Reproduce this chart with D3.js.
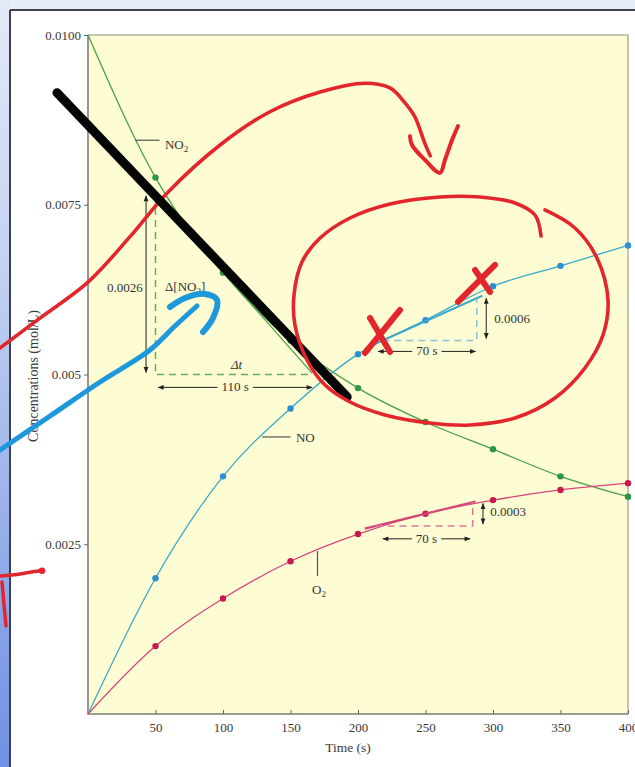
<!DOCTYPE html>
<html><head><meta charset="utf-8">
<script src="https://cdn.jsdelivr.net/npm/d3@7"></script>
<style>html,body{margin:0;padding:0;overflow:hidden;background:#fff}</style>
</head><body><svg id="c" width="635" height="767"></svg>
<script>
// ---- data ----
const times = [0, 50, 100, 150, 200, 250, 300, 350, 400];
const no2 = [0.0100, 0.0079, 0.0065, 0.0055, 0.0048, 0.0043, 0.0039, 0.0035, 0.0032];
const no  = [0, 0.0020, 0.0035, 0.0045, 0.0053, 0.0058, 0.0063, 0.0066, 0.0069];
const o2  = [0, 0.0010, 0.0017, 0.00225, 0.00265, 0.00295, 0.00315, 0.0033, 0.0034];
const xTicks = [50, 100, 150, 200, 250, 300, 350, 400];
const yTicks = [0.0025, 0.005, 0.0075, 0.0100];
const yTickLabels = ["0.0025", "0.005", "0.0075", "0.0100"];

// textbook annotations (time s, concentration mol/L)
const no2Tangent = [[50, 0.00763], [166, 0.00502]];
const noTangent = [[205, 0.00538], [292, 0.00616]];
const o2Tangent = [[205, 0.00273], [287, 0.00313]];

// hand-drawn ink (time s, concentration mol/L)
const inkBlack = [[-23, 0.00915], [192, 0.00467]];
const inkRedArc = [[-65.2,0.00539],[-35.6,0.00583],[0,0.00636],[31.1,0.00703],[58.5,0.00767],[97.8,0.00838],[134.8,0.00887],[171.9,0.00916],[205.2,0.00929],[223.7,0.00922],[234.8,0.00900],[242,0.00880],[249.6,0.00840],[253.5,0.00822]];
const inkRedHook = [[238.5,0.00851],[240,0.00838],[249.6,0.00816],[260.7,0.00797],[264.4,0.00816],[269.6,0.00845],[274.1,0.00866]];
const inkRedLoop = [[338.5,0.007423],[360.7,0.007158],[377.0,0.006716],[385.2,0.006097],[381.5,0.005582],[368.1,0.005096],[345.9,0.004654],[316.3,0.004359],[283.0,0.004256],[253.3,0.004286],[220.0,0.004404],[194.1,0.004595],[175.6,0.004845],[162.2,0.005214],[153.3,0.005729],[152.6,0.006171],[158.5,0.006657],[171.9,0.007010],[194.1,0.007305],[223.7,0.007511],[260.7,0.007614],[290.4,0.007614],[316.3,0.007526],[331.1,0.007349],[335.6,0.007040]];
const inkRedX = [
  [[231.1,0.005950],[205.2,0.005317]], [[208.9,0.005832],[223.7,0.005331]],
  [[301.5,0.006613],[274.1,0.006068]], [[286.7,0.006539],[297.8,0.006215]]
];
const inkBlue = [[-65.2,0.003888],[-28.1,0.004389],[8.9,0.004890],[45.9,0.005361],[64.4,0.005714],[80.7,0.006009]];
const inkBlueCurl = [[60.7,0.005994],[71.9,0.006127],[86.7,0.006186],[95.6,0.006097],[92.6,0.005832],[85.2,0.005626]];
const inkRedLeftH = [[-65.2,0.002032],[-50.4,0.002062],[-37.0,0.002106],[-34.1,0.002110]];
const inkRedLeftV = [[-63.7,0.001944],[-62.2,0.001605],[-60.7,0.001296]];

// ---- drawing ----
const svg = d3.select("#c");
const W = 635, H = 767;
const x = d3.scaleLinear().domain([0, 400]).range([88, 628]);
const y = d3.scaleLinear().domain([0, 0.01]).range([714, 35]);
const FONT = "'Liberation Serif','Times New Roman',serif";

const defs = svg.append("defs");
const g1 = defs.append("linearGradient").attr("id","side").attr("x1",0).attr("y1",0).attr("x2",0).attr("y2",1);
g1.append("stop").attr("offset","0%").attr("stop-color","#e3eaf7");
g1.append("stop").attr("offset","35%").attr("stop-color","#c3d1f0");
g1.append("stop").attr("offset","100%").attr("stop-color","#6f90e4");
defs.append("marker").attr("id","ah").attr("viewBox","0 0 10 10").attr("refX",9).attr("refY",5)
  .attr("markerWidth",7).attr("markerHeight",6).attr("markerUnits","userSpaceOnUse")
  .attr("orient","auto-start-reverse")
  .append("path").attr("d","M0,1 L10,5 L0,9 Z").attr("fill","#222");

// page background
svg.append("rect").attr("width",W).attr("height",H).attr("fill","#e6ecf8");
svg.append("rect").attr("x",0).attr("y",0).attr("width",10).attr("height",H).attr("fill","url(#side)");
svg.append("rect").attr("x",10).attr("y",10).attr("width",W).attr("height",H).attr("fill","#ffffff");
svg.append("line").attr("x1",10).attr("x2",10).attr("y1",10).attr("y2",H).attr("stroke","#3c3f52").attr("stroke-width",2);
svg.append("line").attr("x1",10).attr("x2",W).attr("y1",10).attr("y2",10).attr("stroke","#3c3f52").attr("stroke-width",2);

// plot area
svg.append("rect").attr("x",x(0)).attr("y",y(0.01)).attr("width",x(400)-x(0)).attr("height",y(0)-y(0.01))
  .attr("fill","#fefcd3");
svg.append("path").attr("d",`M${x(0)},${y(0.01)}H${x(400)}V${y(0)}`).attr("fill","none")
  .attr("stroke","#b4b4a8").attr("stroke-width",1.6);
svg.append("path").attr("d",`M${x(0)},${y(0.01)}V${y(0)}H${x(400)}`).attr("fill","none")
  .attr("stroke","#7d7d78").attr("stroke-width",1.6);

// axes
const yAx = svg.append("g").attr("transform",`translate(${x(0)},0)`)
  .call(d3.axisLeft(y).tickValues(yTicks).tickSize(4).tickPadding(3).tickFormat((d,i)=>yTickLabels[i]));
yAx.select(".domain").remove();
yAx.selectAll("line").attr("stroke","#666");
yAx.selectAll("text").attr("font-family",FONT).attr("font-size",13).attr("fill","#3a3a3a");
const xAx = svg.append("g").attr("transform",`translate(0,${y(0)})`)
  .call(d3.axisBottom(x).tickValues(xTicks).tickSize(-4).tickPadding(9));
xAx.select(".domain").remove();
xAx.selectAll("line").attr("stroke","#666");
xAx.selectAll("text").attr("font-family",FONT).attr("font-size",13).attr("fill","#3a3a3a");

svg.append("text").attr("x",(x(0)+x(400))/2 - 10).attr("y",752).attr("text-anchor","middle")
  .attr("font-family",FONT).attr("font-size",13.5).attr("fill","#3a3a3a").text("Time (s)");
svg.append("text").attr("transform","translate(38,376) rotate(-90)").attr("text-anchor","middle")
  .attr("font-family",FONT).attr("font-size",14).attr("fill","#3a3a3a").text("Concentrations (mol/L)");

// data curves
const series = [
  {vals: no2, line: "#48a048", dot: "#2f9446"},
  {vals: no,  line: "#3aa9cc", dot: "#2b8fd4"},
  {vals: o2,  line: "#d6467a", dot: "#c81a50"}
];
const curve = d3.line().x(d=>x(d[0])).y(d=>y(d[1])).curve(d3.curveMonotoneX);
series.forEach(s => {
  const pts = times.map((t,i)=>[t, s.vals[i]]);
  svg.append("path").attr("d", curve(pts)).attr("fill","none").attr("stroke", s.line).attr("stroke-width",1.3);
  svg.append("g").selectAll("circle").data(pts.slice(1)).join("circle")
    .attr("cx",d=>x(d[0])).attr("cy",d=>y(d[1])).attr("r",3.2).attr("fill",s.dot);
});

// textbook annotations
const seg = d3.line().x(d=>x(d[0])).y(d=>y(d[1]));
svg.append("path").attr("d",seg(no2Tangent)).attr("stroke","#48a048").attr("stroke-width",1.3).attr("fill","none");
svg.append("path").attr("d",seg(noTangent)).attr("stroke","#3aa9cc").attr("stroke-width",2).attr("fill","none");
svg.append("path").attr("d",seg(o2Tangent)).attr("stroke","#d6467a").attr("stroke-width",2.2).attr("fill","none");

function dashed(pts, color){
  svg.append("path").attr("d",seg(pts)).attr("fill","none").attr("stroke",color)
    .attr("stroke-width",1.5).attr("stroke-dasharray","7,5");
}
dashed([[50,0.00763],[50,0.00500],[166,0.00500]], "#5fae5f");
dashed([[218,0.00550],[288,0.00550],[288,0.00612]], "#86c4dc");
dashed([[213,0.00277],[285,0.00277],[285,0.00312]], "#dd7a9a");

function vArrow(t, c1, c2){
  svg.append("line").attr("x1",x(t)).attr("x2",x(t)).attr("y1",y(c1)).attr("y2",y(c2))
    .attr("stroke","#222").attr("stroke-width",1)
    .attr("marker-start","url(#ah)").attr("marker-end","url(#ah)");
}
function txt(t, c, s, anchor, size){
  return svg.append("text").attr("x",x(t)).attr("y",y(c)).attr("text-anchor",anchor||"start")
    .attr("font-family",FONT).attr("font-size",size||13).attr("fill","#333").text(s);
}
function hArrow(t1, t2, c, label){
  const tx = txt((t1+t2)/2, c - 0.00006, label, "middle");
  const w = tx.node().getComputedTextLength();
  const cx = (x(t1)+x(t2))/2;
  svg.append("line").attr("x1",cx - w/2 - 4).attr("x2",x(t1)).attr("y1",y(c)).attr("y2",y(c))
    .attr("stroke","#222").attr("stroke-width",1).attr("marker-end","url(#ah)");
  svg.append("line").attr("x1",cx + w/2 + 4).attr("x2",x(t2)).attr("y1",y(c)).attr("y2",y(c))
    .attr("stroke","#222").attr("stroke-width",1).attr("marker-end","url(#ah)");
}
vArrow(43, 0.00763, 0.00503);
txt(40.5, 0.00622, "0.0026", "end");
const dl = txt(57, 0.00623, "Δ[NO");
dl.append("tspan").attr("font-size",9).attr("dy",3).text("2");
dl.append("tspan").attr("dy",-3).text("]");
txt(110, 0.00508, "Δt", "middle").attr("font-style","italic");
hArrow(52, 166, 0.00481, "110 s");

hArrow(215, 287, 0.00534, "70 s");
vArrow(295, 0.00612, 0.00553);
txt(301, 0.00576, "0.0006");

hArrow(218.5, 283, 0.00258, "70 s");
vArrow(292.6, 0.00310, 0.00280);
txt(298, 0.00291, "0.0003");

// series labels with leaders
function leader(pts){
  svg.append("path").attr("d",seg(pts)).attr("stroke","#555").attr("stroke-width",1.2).attr("fill","none");
}
leader([[35,0.00845],[53,0.00845]]);
const l1 = txt(57, 0.00832, "NO"); l1.append("tspan").attr("font-size",9).attr("dy",3).text("2");
leader([[129,0.00408],[150,0.00408]]);
txt(154, 0.00400, "NO");
leader([[170,0.00240],[170,0.00203]]);
const l3 = txt(166, 0.00177, "O"); l3.append("tspan").attr("font-size",9).attr("dy",3).text("2");

// hand-drawn ink
const ink = d3.line().x(d=>x(d[0])).y(d=>y(d[1])).curve(d3.curveCatmullRom.alpha(0.5));
function stroke(pts, color, w){
  svg.append("path").attr("d",ink(pts)).attr("fill","none").attr("stroke",color)
    .attr("stroke-width",w).attr("stroke-linecap","round").attr("stroke-linejoin","round");
}
const RED = "#e2262b";
stroke(inkRedArc, RED, 3.6);
stroke(inkRedHook, RED, 4);
stroke(inkBlack, "#050505", 9);
stroke(inkRedLoop, RED, 3.6);
inkRedX.forEach(p => stroke(p, RED, 6));
stroke(inkBlue, "#1d98db", 5);
stroke(inkBlueCurl, "#1d98db", 6);
stroke(inkRedLeftH, RED, 3.5);
svg.append("circle").attr("cx",x(-34.1)).attr("cy",y(0.00211)).attr("r",3.3).attr("fill",RED);
stroke(inkRedLeftV, RED, 3.5);
</script></body></html>
